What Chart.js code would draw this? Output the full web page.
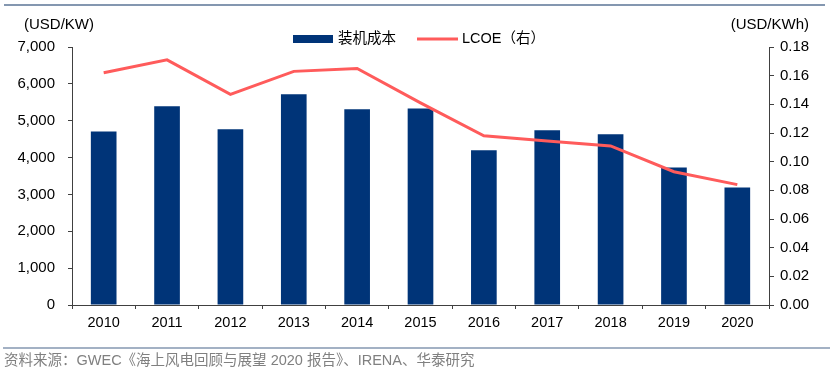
<!DOCTYPE html>
<html>
<head>
<meta charset="utf-8">
<script src="https://cdn.jsdelivr.net/npm/chart.js@4"></script>
<style>
  html, body { margin: 0; padding: 0; background: #fff; }
  #wrap { width: 832px; height: 373px; position: relative; }
</style>
</head>
<body>
<div id="wrap"><canvas id="costChart" width="832" height="373"></canvas></div>
<script>
// data
const years = ['2010', '2011', '2012', '2013', '2014', '2015', '2016', '2017', '2018', '2019', '2020'];
const installCost = [4710, 5390, 4770, 5720, 5310, 5330, 4200, 4740, 4630, 3730, 3190];
const lcoe = [0.162, 0.171, 0.147, 0.163, 0.165, 0.141, 0.118, 0.1145, 0.111, 0.093, 0.084];
const costLabel = '装机成本';
const lcoeLabel = 'LCOE（右）';
const leftTitle = '(USD/KW)';
const rightTitle = '(USD/KWh)';
const sourceText = '资料来源：GWEC《海上风电回顾与展望 2020 报告》、IRENA、华泰研究';

const NAVY = '#003478';
const RED = '#ff5b5b';
const AXIS = '#404040';
const latin = "'Liberation Sans', Arial, sans-serif";
const cjk = "'Liberation Sans', 'Noto Sans CJK SC', sans-serif";

Chart.defaults.font.family = latin;
Chart.defaults.color = '#000';

// extras: rules, axis titles, legend, source line
const decorations = {
    id: 'decorations',
    afterDraw(chart) {
        const c = chart.ctx;
        c.save();
        c.strokeStyle = '#8497b0';
        c.lineWidth = 2;
        c.beginPath(); c.moveTo(4, 5); c.lineTo(825, 5); c.stroke();
        c.lineWidth = 1.5;
        c.beginPath(); c.moveTo(3, 348); c.lineTo(830, 348); c.stroke();

        c.fillStyle = '#000';
        c.font = '15px ' + latin;
        c.textBaseline = 'middle';
        c.textAlign = 'left';
        c.fillText(leftTitle, 24, 25);
        c.textAlign = 'right';
        c.fillText(rightTitle, 809, 25);

        // legend
        c.fillStyle = NAVY;
        c.fillRect(293, 35, 40, 8);
        c.fillStyle = '#000';
        c.textAlign = 'left';
        c.font = '14.5px ' + cjk;
        c.fillText(costLabel, 338, 39);
        c.strokeStyle = RED;
        c.lineWidth = 3;
        c.beginPath(); c.moveTo(417, 39); c.lineTo(458, 39); c.stroke();
        c.fillText(lcoeLabel, 462, 39);

        c.fillStyle = '#808080';
        c.font = '14.5px ' + cjk;
        c.fillText(sourceText, 4, 361);
        c.restore();
    }
};

new Chart(document.getElementById('costChart'), {
    type: 'bar',
    data: {
        labels: years,
        datasets: [
            {
                type: 'line', label: lcoeLabel, data: lcoe, yAxisID: 'y1',
                borderColor: RED, borderWidth: 3, pointRadius: 0, tension: 0, order: 1
            },
            {
                label: costLabel, data: installCost, yAxisID: 'y',
                backgroundColor: NAVY, categoryPercentage: 1, barPercentage: 0.405, order: 2
            }
        ]
    },
    options: {
        responsive: false, animation: false,
        layout: { padding: { top: 47, left: 0, right: 0, bottom: 0 } },
        plugins: { legend: { display: false }, tooltip: { enabled: false } },
        scales: {
            x: {
                grid: { drawOnChartArea: false, offset: true, tickLength: 4, color: AXIS },
                border: { display: true, color: AXIS, width: 1 },
                ticks: { font: { size: 14.5 }, padding: 5 },
                afterFit: s => { s.height = 68; }
            },
            y: {
                position: 'left', min: 0, max: 7000,
                ticks: { stepSize: 1000, font: { size: 15 }, padding: 13,
                    callback: v => v.toLocaleString('en-US') },
                grid: { drawOnChartArea: false, tickLength: 4, color: AXIS },
                border: { color: AXIS, width: 1 },
                afterFit: s => { s.width = 72; }
            },
            y1: {
                position: 'right', min: 0, max: 0.18,
                ticks: { stepSize: 0.02, font: { size: 15 }, padding: 6,
                    callback: v => v.toFixed(2) },
                grid: { drawOnChartArea: false, tickLength: 5, color: AXIS },
                border: { color: AXIS, width: 1 },
                afterFit: s => { s.width = 63; }
            }
        }
    },
    plugins: [decorations]
});
</script>
</body>
</html>
